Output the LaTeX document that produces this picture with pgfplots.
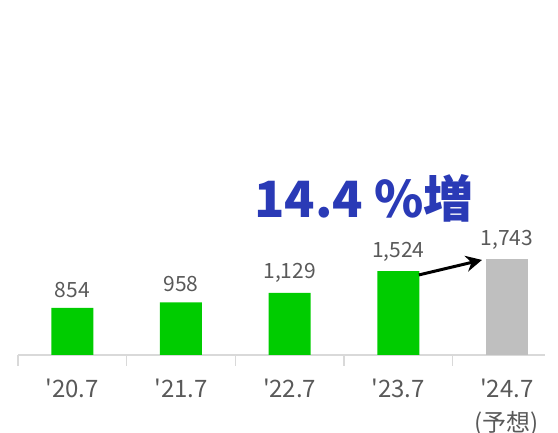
\documentclass[border=0pt]{standalone}
\usepackage{fontspec}
\setmainfont{Noto Sans CJK JP}[Ligatures=TeXOff]
\usepackage{pgfplots}
\usepackage{pgfplotstable}
\pgfplotsset{compat=1.18}
\usetikzlibrary{arrows.meta}
\definecolor{bargreen}{RGB}{0,204,0}
\definecolor{bargray}{RGB}{191,191,191}
\definecolor{txtgray}{RGB}{89,89,89}
\definecolor{linegray}{RGB}{217,217,217}
\definecolor{bigblue}{RGB}{42,58,182}
\pgfplotstableread{
x y lab
0 854 854
1 958 958
2 1129 {1,129}
3 1524 {1,524}
}\actual
\pgfplotstableread{
x y lab
4 1743 {1,743}
}\forecast
\begin{document}
\begin{tikzpicture}
\path[use as bounding box] (0,0) rectangle (279pt,216.5pt);
\begin{axis}[
  at={(9pt,39pt)}, anchor=south west,
  scale only axis, width=263.5pt, height=177.5pt,
  xmin=-0.5, xmax=4.35, ymin=0, ymax=6450,
  axis x line*=bottom, axis y line=none,
  axis line style={linegray, line width=0.75pt},
  xtick={0,1,2,3,4},
  xticklabels={{'20.7},{'21.7},{'22.7},{'23.7},{'24.7\\(予想)}},
  xticklabel style={align=center, font=\fontsize{12}{17}\selectfont, text=txtgray, yshift=-8.5pt},
  major tick length=0pt,
  minor xtick={-0.5,0.5,1.5,2.5,3.5},
  minor tick length=5.5pt,
  tick align=outside,
  tick style={linegray, line width=0.75pt},
  ybar, bar width=21pt, bar shift=0pt,
  nodes near coords,
  point meta=explicit symbolic,
  every node near coord/.append style={font=\fontsize{10.5}{12}\selectfont, text=txtgray, yshift=1.5pt},
  clip=false,
]
\addplot[fill=bargreen, draw=none] table[x=x, y=y, meta=lab] {\actual};
\addplot[fill=bargray, draw=none] table[x=x, y=y, meta=lab] {\forecast};
\draw[black, line width=1.5pt, -{Stealth[length=8pt,width=8pt]}] (axis cs:3.19,1455) -- (axis cs:3.77,1727);
\end{axis}
\node[text=bigblue, font=\bfseries\fontsize{25}{28}\selectfont] at (182pt,117.5pt) {14.4 \%増};
\end{tikzpicture}
\end{document}
